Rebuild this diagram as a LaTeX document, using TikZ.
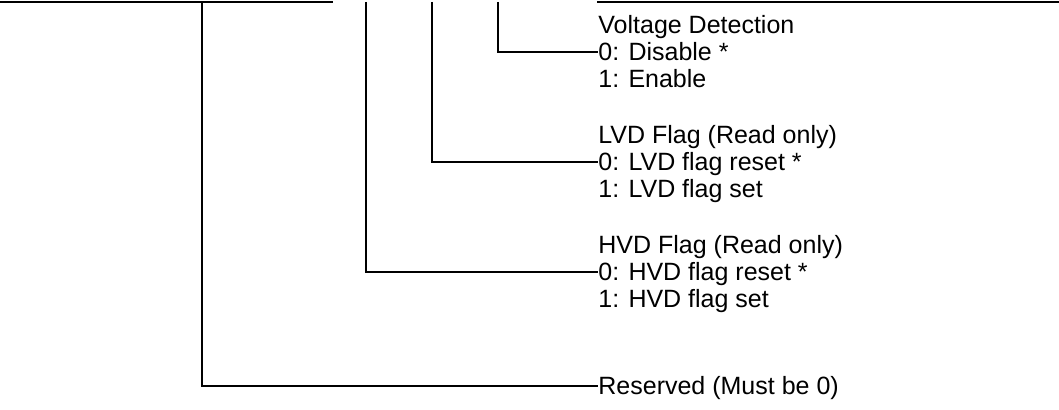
\documentclass[tikz,border=0pt]{standalone}
\usepackage{fontspec}
\setmainfont{Liberation Sans}
\usepackage{xcolor}
\definecolor{ink}{HTML}{000000}
\tikzset{
  wire/.style={draw=ink, line width=0.55pt},
  regline/.style={draw=ink, line width=0.8pt},
  field/.style={inner sep=0pt, anchor=west, text height=8.9pt, text depth=0pt, font=\fontsize{12.5}{14}\selectfont, text=ink},
}
\begin{document}
\begin{tikzpicture}[x=0.5pt, y=-0.5pt]
  \useasboundingbox (0,0) rectangle (1059,410);
  \draw[regline] (0,2) -- (333,2);
  \draw[regline, line width=1pt] (597,2) -- (1059,2);

  \coordinate (bit3) at (202,2);
  \coordinate (bit2) at (366,2);
  \coordinate (bit1) at (432,2);
  \coordinate (bit0) at (498,2);

  \node[field] (vdt) at (598,25) {Voltage Detection}; \node[field] (vd0) at (598,52) {0: Disable *}; \node[field] (vd1) at (598,79) {1: Enable};
  \node[field] (lvdt) at (598,135) {LVD Flag (Read only)}; \node[field] (lvd0) at (598,162) {0: LVD flag reset *}; \node[field] (lvd1) at (598,189) {1: LVD flag set};
  \node[field] (hvdt) at (598,245) {HVD Flag (Read only)}; \node[field] (hvd0) at (598,272) {0: HVD flag reset *}; \node[field] (hvd1) at (598,299) {1: HVD flag set};
  \node[field] (rsv) at (598,386) {Reserved (Must be 0)};

  \draw[wire] (bit0) |- (vd0.west);
  \draw[wire] (bit1) |- (lvd0.west);
  \draw[wire] (bit2) |- (hvd0.west);
  \draw[wire] (bit3) |- (rsv.west);
\end{tikzpicture}
\end{document}
